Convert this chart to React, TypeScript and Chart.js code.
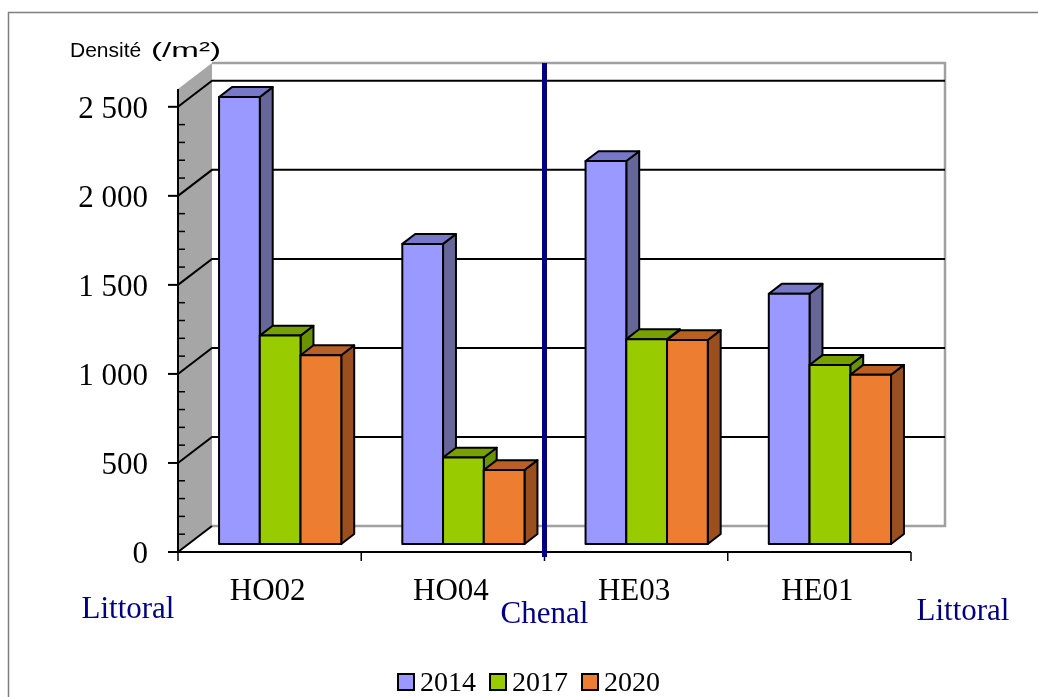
import { useEffect, useRef } from 'react';
import { Chart, registerables } from 'chart.js';

Chart.register(...registerables);

// ---------- data ----------
const categories = ['HO02', 'HO04', 'HE03', 'HE01'];
const seriesNames = ['2014', '2017', '2020'];
const values2014 = [2510, 1685, 2150, 1405];
const values2017 = [1170, 485, 1150, 1005];
const values2020 = [1060, 415, 1145, 950];
const yTickValues = [0, 500, 1000, 1500, 2000, 2500];
const yTickLabels = ['0', '500', '1 000', '1 500', '2 000', '2 500'];
const yMax = 2600;
const yMinorStep = 100;
const zoneLabels = ['Littoral', 'Chenal', 'Littoral'];
const yTitleWord = 'Densité';
const yTitleUnit = '(/m²)';

// ---------- styles ----------
const frontColors = ['#9999FF', '#99CC00', '#ED7D31'];
const topColors = ['#7878C8', '#77A000', '#BA5F25'];
const sideColors = ['#666699', '#6A9300', '#9C4F1E'];
const SERIF = '"Liberation Serif", "Times New Roman", serif';
const SANS = '"Liberation Sans", Arial, sans-serif';
const NAVY = '#000080';
const DEPTH = { x: 34, y: -26 };
const BAR_FRONT = 0.31;
const BAR_BACK = 0.69;

function poly(ctx: CanvasRenderingContext2D, pts: number[][], fill: string) {
  ctx.beginPath();
  ctx.moveTo(pts[0][0], pts[0][1]);
  for (let i = 1; i < pts.length; i++) ctx.lineTo(pts[i][0], pts[i][1]);
  ctx.closePath();
  ctx.fillStyle = fill;
  ctx.fill();
  ctx.stroke();
}

const excel3d = {
  id: 'excel3d',
  beforeDraw(chart: any) {
    const { ctx, chartArea: a, scales } = chart;
    const y = scales.y;
    const bx = a.left + DEPTH.x;
    const rx = a.right + DEPTH.x;
    const y0 = y.getPixelForValue(0);
    const yT = y.getPixelForValue(yMax);
    ctx.save();
    ctx.fillStyle = '#fff';
    ctx.fillRect(0, 0, chart.width, chart.height);
    // outer frame
    ctx.strokeStyle = '#7f7f7f';
    ctx.lineWidth = 1.5;
    ctx.strokeRect(8.5, 12.5, chart.width + 40, chart.height + 40);
    // side wall
    ctx.fillStyle = '#A6A6A6';
    ctx.beginPath();
    ctx.moveTo(a.left, yT);
    ctx.lineTo(bx, yT + DEPTH.y);
    ctx.lineTo(bx, y0 + DEPTH.y);
    ctx.lineTo(a.left, y0);
    ctx.closePath();
    ctx.fill();
    // back wall outline + floor back edge
    ctx.strokeStyle = '#A0A0A0';
    ctx.lineWidth = 2.5;
    ctx.beginPath();
    ctx.moveTo(bx, yT + DEPTH.y);
    ctx.lineTo(rx, yT + DEPTH.y);
    ctx.lineTo(rx, y0 + DEPTH.y);
    ctx.lineTo(bx, y0 + DEPTH.y);
    ctx.stroke();
    // gridlines (side wall diagonals + back wall)
    ctx.strokeStyle = '#000';
    ctx.lineWidth = 2;
    yTickValues.forEach((v) => {
      const py = y.getPixelForValue(v);
      ctx.beginPath();
      ctx.moveTo(a.left, py);
      ctx.lineTo(bx, py + DEPTH.y);
      if (v !== 0) ctx.lineTo(rx, py + DEPTH.y);
      ctx.stroke();
    });
    // vertical axis line
    ctx.beginPath();
    ctx.moveTo(a.left, yT);
    ctx.lineTo(a.left, y0);
    ctx.stroke();
    // major ticks
    yTickValues.forEach((v) => {
      const py = y.getPixelForValue(v);
      ctx.beginPath();
      ctx.moveTo(a.left - 10, py);
      ctx.lineTo(a.left, py);
      ctx.stroke();
    });
    // minor ticks
    ctx.lineWidth = 1.5;
    for (let v = yMinorStep; v < yTickValues[yTickValues.length - 1]; v += yMinorStep) {
      if (v % 500 === 0) continue;
      const py = y.getPixelForValue(v);
      ctx.beginPath();
      ctx.moveTo(a.left, py);
      ctx.lineTo(a.left + 7, py);
      ctx.stroke();
    }
    // floor front edge
    ctx.lineWidth = 2;
    ctx.beginPath();
    ctx.moveTo(a.left, y0);
    ctx.lineTo(a.right, y0);
    ctx.stroke();
    // category ticks
    ctx.lineWidth = 1.5;
    for (let i = 0; i <= categories.length; i++) {
      const px = scales.x.getPixelForValue(i - 0.5);
      ctx.beginPath();
      ctx.moveTo(px, y0);
      ctx.lineTo(px, y0 + 9);
      ctx.stroke();
    }
    // y tick labels
    ctx.fillStyle = '#000';
    ctx.font = `31px ${SERIF}`;
    ctx.textAlign = 'right';
    ctx.textBaseline = 'middle';
    yTickValues.forEach((v, i) => {
      ctx.fillText(yTickLabels[i], a.left - 30, y.getPixelForValue(v) + 3);
    });
    ctx.restore();
  },
  beforeDatasetsDraw(chart: any) {
    const ctx = chart.ctx as CanvasRenderingContext2D;
    const ox = DEPTH.x * BAR_FRONT;
    const oy = DEPTH.y * BAR_FRONT;
    const dx = DEPTH.x * (BAR_BACK - BAR_FRONT);
    const dy = DEPTH.y * (BAR_BACK - BAR_FRONT);
    ctx.save();
    ctx.lineWidth = 2;
    ctx.strokeStyle = '#000';
    ctx.lineJoin = 'round';
    chart.data.datasets.forEach((_ds: any, di: number) => {
      const meta = chart.getDatasetMeta(di);
      meta.data.forEach((el: any) => {
        const { x, y, base, width } = el.getProps(['x', 'y', 'base', 'width'], true);
        const l = x - width / 2 + ox;
        const r = x + width / 2 + ox;
        const t = y + oy;
        const b = base + oy;
        poly(ctx, [[r, t], [r + dx, t + dy], [r + dx, b + dy], [r, b]], sideColors[di]);
        poly(ctx, [[l, t], [r, t], [r + dx, t + dy], [l + dx, t + dy]], topColors[di]);
        poly(ctx, [[l, t], [r, t], [r, b], [l, b]], frontColors[di]);
      });
    });
    ctx.restore();
    return false;
  },
  afterDraw(chart: any) {
    const { ctx, chartArea: a, scales } = chart;
    const x = scales.x;
    const y = scales.y;
    const y0 = y.getPixelForValue(0);
    const yT = y.getPixelForValue(yMax);
    ctx.save();
    // separator
    const sx = x.getPixelForValue(1.5);
    ctx.strokeStyle = NAVY;
    ctx.lineWidth = 5;
    ctx.beginPath();
    ctx.moveTo(sx, yT + DEPTH.y);
    ctx.lineTo(sx, y0 + 5);
    ctx.stroke();
    // category labels
    ctx.fillStyle = '#000';
    ctx.font = `31px ${SERIF}`;
    ctx.textAlign = 'center';
    ctx.textBaseline = 'alphabetic';
    categories.forEach((c, i) => ctx.fillText(c, x.getPixelForValue(i) - 2, 600));
    // zone labels
    ctx.fillStyle = NAVY;
    ctx.fillText(zoneLabels[0], a.left - 50, 618);
    ctx.fillText(zoneLabels[1], sx, 623);
    ctx.fillText(zoneLabels[2], a.right + 52, 620);
    // y title
    ctx.fillStyle = '#000';
    ctx.font = `21px ${SANS}`;
    ctx.textAlign = 'left';
    ctx.fillText(yTitleWord, 70, 57);
    const uw = ctx.measureText(yTitleUnit).width;
    ctx.save();
    ctx.translate(151, 57);
    ctx.scale(70 / uw, 1);
    ctx.fillText(yTitleUnit, 0, 0);
    ctx.restore();
    // legend
    ctx.font = `28px ${SERIF}`;
    const box = 16;
    const gap = 6;
    const spacing = 14;
    const widths = seriesNames.map((s) => ctx.measureText(s).width);
    const total = widths.reduce((s, w) => s + box + gap + w, 0) + spacing * (seriesNames.length - 1);
    let lx = 529 - total / 2;
    ctx.lineWidth = 2;
    ctx.strokeStyle = '#000';
    seriesNames.forEach((s, i) => {
      ctx.fillStyle = frontColors[i];
      ctx.fillRect(lx, 674, box, box);
      ctx.strokeRect(lx, 674, box, box);
      ctx.fillStyle = '#000';
      ctx.fillText(s, lx + box + gap, 691);
      lx += box + gap + widths[i] + spacing;
    });
    ctx.restore();
  },
};

export default function App() {
  const ref = useRef<HTMLCanvasElement | null>(null);
  useEffect(() => {
    if (!ref.current) return;
    const chart = new Chart(ref.current, {
      type: 'bar',
      data: {
        labels: categories,
        datasets: [values2014, values2017, values2020].map((d, i) => ({
          label: seriesNames[i],
          data: d,
          backgroundColor: frontColors[i],
          borderColor: '#000',
          borderWidth: 2,
          barPercentage: 1,
          categoryPercentage: 0.667,
        })),
      },
      options: {
        responsive: false,
        devicePixelRatio: 1,
        animation: false,
        layout: { padding: { left: 178, right: 127, top: 89, bottom: 145 } },
        plugins: { legend: { display: false }, tooltip: { enabled: false } },
        scales: {
          x: { display: false, offset: true },
          y: { display: false, min: 0, max: yMax },
        },
      },
      plugins: [excel3d],
    });
    return () => chart.destroy();
  }, []);
  return (
    <div style={{ position: 'fixed', left: 0, top: 0, width: 1038, height: 697, background: '#fff' }}>
      <canvas ref={ref} width={1038} height={697} />
    </div>
  );
}
